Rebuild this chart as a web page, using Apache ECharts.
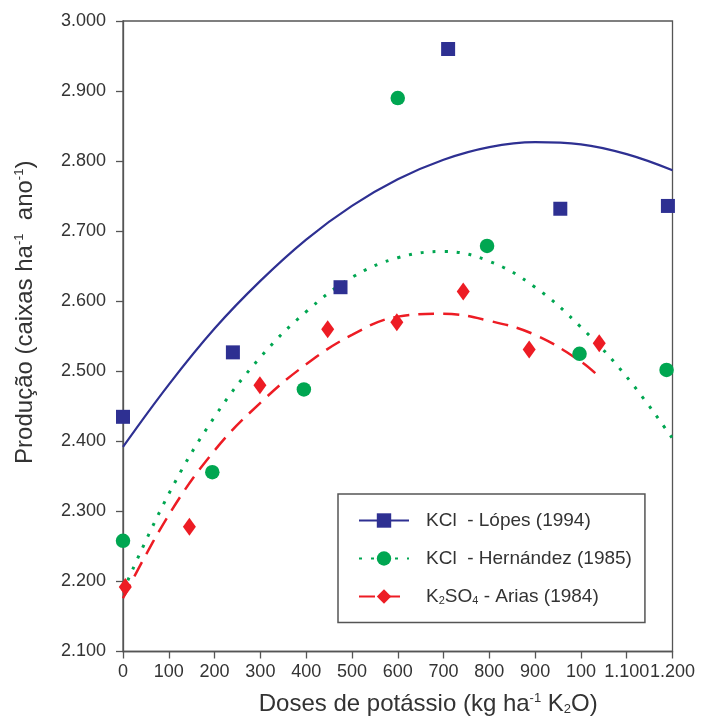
<!DOCTYPE html>
<html>
<head>
<meta charset="utf-8">
<script src="https://cdn.jsdelivr.net/npm/echarts@6/dist/echarts.min.js"></script>
<style>
html,body{margin:0;padding:0;background:#ffffff;}
#chart{width:712px;height:727px;}
</style>
</head>
<body>
<div id="chart"></div>
<script>
// ---- Data ----
const seriesNames = ['KCl  - Lópes (1994)', 'KCl  - Hernández (1985)', 'K2SO4 - Arias (1984)'];

// observed points
const lopesDose = [0, 240, 475, 710, 955, 1190];
const lopesProd = [2435, 2527, 2620, 2960, 2732, 2736];
const hernandezDose = [0, 195, 395, 600, 795, 997, 1187];
const hernandezProd = [2258, 2356, 2474, 2890, 2679, 2525, 2502];
const ariasDose = [5, 145, 299, 447, 598, 743, 887, 1040];
const ariasProd = [2192, 2278, 2480, 2560, 2570, 2614, 2531, 2540];

// fitted curves
const curveDose = [0, 100, 200, 300, 400, 500, 600, 700, 800, 900, 1000, 1100, 1200];
const lopesCurve = [2392, 2481, 2561, 2629, 2688, 2736, 2774, 2802, 2820, 2827, 2824, 2810, 2787];
const hernandezCurve = [2186, 2325, 2435, 2520, 2585, 2634, 2662, 2671, 2657, 2620, 2563, 2492, 2404];
const ariasCurveDose = [0, 100, 200, 300, 400, 500, 600, 700, 800, 900, 1000, 1040];
const ariasCurve = [2176, 2295, 2387, 2455, 2510, 2552, 2578, 2582, 2572, 2552, 2514, 2492];

// tick labels
const xTickLabels = ['0', '100', '200', '300', '400', '500', '600', '700', '800', '900', '100', '1.100', '1.200'];
const yTickLabels = ['2.100', '2.200', '2.300', '2.400', '2.500', '2.600', '2.700', '2.800', '2.900', '3.000'];

// ---- Styling ----
const FONT = "'Liberation Sans', Arial, sans-serif";
const BLUE = '#2e3092';
const GREEN = '#00a651';
const RED = '#ed1c24';
const AXIS = '#555555';
const TEXT = '#333333';

function pairs(xs, ys) { return xs.map((x, i) => [x, ys[i]]); }

const chart = echarts.init(document.getElementById('chart'), null, {renderer: 'canvas'});

const option = {
  backgroundColor: '#ffffff',
  animation: false,
  textStyle: {fontFamily: FONT},
  grid: {
    left: 123, right: 39.5, top: 21, bottom: 75.5,
    show: true, borderColor: AXIS, borderWidth: 1.3, backgroundColor: 'transparent'
  },
  legend: {
    orient: 'vertical',
    left: 338, top: 494,
    data: seriesNames,
    itemWidth: 50, itemHeight: 18, itemGap: 19,
    padding: [17, 13, 16, 20],
    borderColor: AXIS, borderWidth: 1.5,
    backgroundColor: '#ffffff',
    selectedMode: false,
    textStyle: {
      fontFamily: FONT, fontSize: 19, color: TEXT, padding: [0, 0, 0, 12],
      rich: {
        n: {fontFamily: FONT, fontSize: 19, color: TEXT},
        s: {fontFamily: FONT, fontSize: 11, color: TEXT, padding: [9, 0, 0, 0]}
      }
    },
    formatter: function (name) {
      if (name.indexOf('K2SO4') === 0) {
        return '{n|K}{s|2}{n|SO}{s|4}{n| - Arias (1984)}';
      }
      return '{n|' + name + '}';
    }
  },
  xAxis: {
    type: 'value',
    min: 0, max: 1200, interval: 100,
    name: 'Doses de potássio (kg ha{sup|-1} K{sub|2}O)',
    nameLocation: 'middle',
    nameGap: 40,
    nameTextStyle: {
      fontFamily: FONT, fontSize: 24, color: TEXT, padding: [0, 0, 0, 61],
      rich: {
        sup: {fontFamily: FONT, fontSize: 13, color: TEXT, padding: [0, 0, 12, 0]},
        sub: {fontFamily: FONT, fontSize: 13, color: TEXT, padding: [11, 0, 0, 0]}
      }
    },
    axisLine: {show: true, lineStyle: {color: AXIS, width: 1.3}},
    axisTick: {show: true, inside: false, length: 7, lineStyle: {color: AXIS, width: 1.3}},
    axisLabel: {
      margin: 12, fontFamily: FONT, fontSize: 18, color: TEXT,
      formatter: function (v) { return xTickLabels[Math.round(v / 100)]; }
    },
    splitLine: {show: false}
  },
  yAxis: {
    type: 'value',
    min: 2100, max: 3000, interval: 100,
    name: 'Produção (caixas ha{sup|-1}  ano{sup|-1})',
    nameLocation: 'middle',
    nameRotate: 90,
    nameGap: 85,
    nameTextStyle: {
      fontFamily: FONT, fontSize: 24, color: TEXT, padding: [0, 0, 0, 48],
      rich: {
        sup: {fontFamily: FONT, fontSize: 13, color: TEXT, padding: [0, 0, 12, 0]}
      }
    },
    axisLine: {show: true, lineStyle: {color: AXIS, width: 1.3}},
    axisTick: {show: true, inside: false, length: 7, lineStyle: {color: AXIS, width: 1.3}},
    axisLabel: {
      margin: 17, fontFamily: FONT, fontSize: 18, color: TEXT,
      formatter: function (v) { return yTickLabels[Math.round((v - 2100) / 100)]; }
    },
    splitLine: {show: false}
  },
  series: [
    {
      name: seriesNames[0], type: 'line', data: pairs(curveDose, lopesCurve),
      smooth: 0.4, showSymbol: false, symbol: 'rect', symbolSize: 14,
      lineStyle: {color: BLUE, width: 2.2, type: 'solid'},
      itemStyle: {color: BLUE, opacity: 1}, z: 2
    },
    {
      name: seriesNames[1], type: 'line', data: pairs(curveDose, hernandezCurve),
      smooth: 0.4, showSymbol: false, symbol: 'circle', symbolSize: 14,
      lineStyle: {color: GREEN, width: 3, type: [3, 9], cap: 'butt'},
      itemStyle: {color: GREEN, opacity: 1}, z: 2
    },
    {
      name: seriesNames[2], type: 'line', data: pairs(ariasCurveDose, ariasCurve),
      smooth: 0.4, showSymbol: false, symbol: 'diamond', symbolSize: 14,
      lineStyle: {color: RED, width: 2.5, type: [16, 9]},
      itemStyle: {color: RED, opacity: 1}, z: 2
    },
    {
      name: seriesNames[0], type: 'scatter', data: pairs(lopesDose, lopesProd),
      symbol: 'rect', symbolSize: 14, itemStyle: {color: BLUE, opacity: 1}, z: 3, clip: false
    },
    {
      name: seriesNames[1], type: 'scatter', data: pairs(hernandezDose, hernandezProd),
      symbol: 'circle', symbolSize: 14.5, itemStyle: {color: GREEN, opacity: 1}, z: 3, clip: false
    },
    {
      name: seriesNames[2], type: 'scatter', data: pairs(ariasDose, ariasProd),
      symbol: 'diamond', symbolSize: [13, 18], itemStyle: {color: RED, opacity: 1}, z: 3, clip: false
    }
  ]
};

chart.setOption(option);
</script>
</body>
</html>
